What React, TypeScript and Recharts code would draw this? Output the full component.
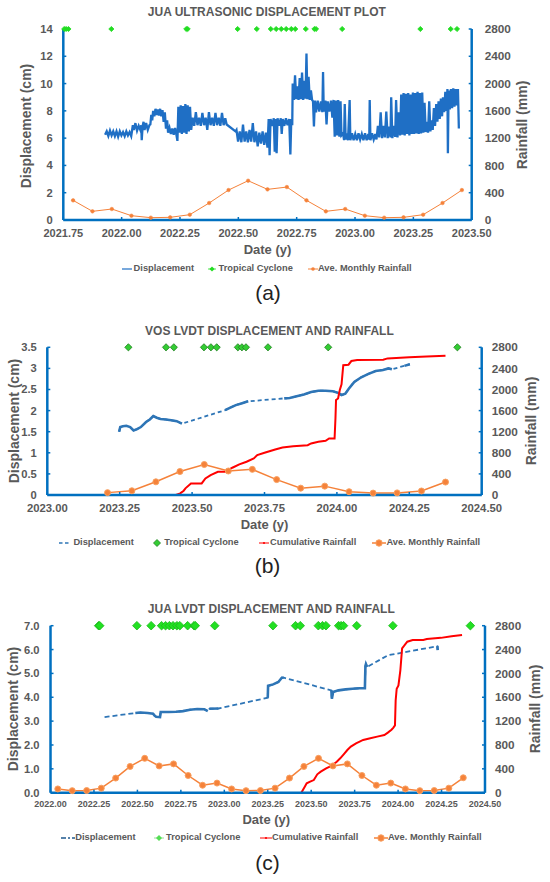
import React from 'react';
import { ComposedChart, Line, Scatter, XAxis, YAxis } from 'recharts';

const FONT = '"Liberation Sans", Arial, Helvetica, sans-serif';
const TXT = '#595959';
const AXIS = '#0070C0';
const BLUE = '#1F6FC5';
const BLUE2 = '#2E75B6';
const ORANGE = '#F5823A';
const ORANGE_EDGE = '#F8A060';
const RED = '#FF0000';

// ---------- tick labels ----------
const xTicksA = [2021.75, 2022.0, 2022.25, 2022.5, 2022.75, 2023.0, 2023.25, 2023.5];
const xTicksB = [2023.0, 2023.25, 2023.5, 2023.75, 2024.0, 2024.25, 2024.5];
const xTicksC = [2022.0, 2022.25, 2022.5, 2022.75, 2023.0, 2023.25, 2023.5, 2023.75, 2024.0, 2024.25, 2024.5];
const yTicksA = [0, 2, 4, 6, 8, 10, 12, 14];
const yTicksB = [0, 0.5, 1, 1.5, 2, 2.5, 3, 3.5];
const yTicksC = [0, 1, 2, 3, 4, 5, 6, 7];
const rainTicks = [0, 400, 800, 1200, 1600, 2000, 2400, 2800];

// ---------- tropical cyclone dates (decimal year) ----------
const cycloneDates = [
  2021.754, 2021.762, 2021.772, 2021.956, 2022.277, 2022.283, 2022.497, 2022.579, 2022.639,
  2022.662, 2022.684, 2022.705, 2022.727, 2022.744, 2022.789, 2022.826, 2022.833, 2022.945,
  2023.28, 2023.41, 2023.437, 2023.541, 2023.565, 2023.585, 2023.658, 2023.672, 2023.686,
  2023.762, 2023.97, 2024.416,
];

// ---------- average monthly rainfall (mm) ----------
const rainA = [
  [2021.792, 288], [2021.875, 127], [2021.958, 161], [2022.042, 63], [2022.125, 34], [2022.208, 39],
  [2022.292, 78], [2022.375, 249], [2022.458, 439], [2022.542, 576], [2022.625, 449], [2022.708, 483],
  [2022.792, 288], [2022.875, 127], [2022.958, 161], [2023.042, 63], [2023.125, 34], [2023.208, 39],
  [2023.292, 78], [2023.375, 249], [2023.458, 439],
];
const rainB = [
  [2023.208, 45], [2023.292, 80], [2023.375, 250], [2023.458, 445], [2023.542, 578], [2023.625, 455],
  [2023.708, 486], [2023.792, 292], [2023.875, 130], [2023.958, 168], [2024.042, 62], [2024.125, 36],
  [2024.208, 40], [2024.292, 76], [2024.375, 245],
];
const rainC = [
  [2022.042, 63], [2022.125, 34], [2022.208, 36], [2022.292, 76], [2022.375, 245], [2022.458, 440],
  [2022.542, 576], [2022.625, 449], [2022.708, 483], [2022.792, 288], [2022.875, 125], [2022.958, 161],
  [2023.042, 63], [2023.125, 34], [2023.208, 36], [2023.292, 76], [2023.375, 245], [2023.458, 440],
  [2023.542, 576], [2023.625, 449], [2023.708, 483], [2023.792, 288], [2023.875, 125], [2023.958, 161],
  [2024.042, 63], [2024.125, 34], [2024.208, 36], [2024.292, 76], [2024.375, 250],
];

// ---------- cumulative rainfall (mm) ----------
const cumB = [
  [2023.444, 0], [2023.459, 31], [2023.471, 82], [2023.477, 126], [2023.496, 220], [2023.533, 220],
  [2023.546, 315], [2023.564, 378], [2023.589, 441], [2023.614, 441], [2023.639, 517], [2023.663, 580],
  [2023.688, 630], [2023.713, 693], [2023.725, 756], [2023.75, 800], [2023.787, 863], [2023.812, 901],
  [2023.849, 926], [2023.899, 945], [2023.911, 977], [2023.936, 1008], [2023.961, 1027], [2023.973, 1071],
  [2023.992, 1071], [2023.995, 1450], [2023.997, 1800], [2024.004, 1830], [2024.01, 1990], [2024.016, 2100],
  [2024.022, 2460], [2024.04, 2470], [2024.05, 2540], [2024.07, 2560], [2024.16, 2565], [2024.175, 2590],
  [2024.25, 2610], [2024.31, 2625], [2024.375, 2640],
];
const cumC = [
  [2023.443, 0], [2023.463, 100], [2023.474, 157], [2023.494, 185], [2023.515, 212], [2023.535, 308],
  [2023.555, 352], [2023.586, 408], [2023.616, 448], [2023.647, 520], [2023.667, 576], [2023.687, 644],
  [2023.708, 716], [2023.728, 772], [2023.758, 828], [2023.799, 884], [2023.84, 912], [2023.88, 940],
  [2023.921, 968], [2023.941, 1008], [2023.962, 1056], [2023.972, 1088], [2023.982, 1128], [2023.986, 1548],
  [2023.992, 1744], [2024.002, 1800], [2024.013, 2052], [2024.023, 2420], [2024.033, 2456], [2024.053, 2532],
  [2024.084, 2560], [2024.145, 2560], [2024.165, 2576], [2024.246, 2596], [2024.308, 2624], [2024.368, 2644],
];

// ---------- JUA ultrasonic displacement (cm) ----------
const dispA = [
  [2021.929, 6.25], [2021.936, 6.5], [2021.943, 6.15], [2021.95, 6.55], [2021.957, 6.2], [2021.964, 6.5],
  [2021.971, 6.15], [2021.978, 6.5], [2021.985, 6.1], [2021.992, 6.5], [2021.999, 6.2], [2022.006, 6.45],
  [2022.013, 6.15], [2022.02, 6.5], [2022.027, 6.2], [2022.034, 6.45], [2022.041, 6.15], [2022.045, 6.6],
  [2022.048, 6.95], [2022.052, 6.6], [2022.059, 7.1], [2022.066, 6.55], [2022.073, 6.9], [2022.08, 6.6],
  [2022.084, 6.95], [2022.086, 5.85], [2022.09, 6.9], [2022.094, 7.2], [2022.098, 6.6], [2022.105, 7.1],
  [2022.112, 6.6], [2022.119, 6.95], [2022.123, 7.0], [2022.127, 7.7], [2022.131, 7.3], [2022.135, 8.0],
  [2022.14, 7.6], [2022.145, 8.15], [2022.15, 7.7], [2022.155, 8.1], [2022.16, 7.65], [2022.165, 8.15],
  [2022.17, 7.6], [2022.175, 8.05], [2022.18, 7.2], [2022.185, 7.9], [2022.19, 6.7], [2022.195, 7.3],
  [2022.199, 6.4], [2022.205, 6.75], [2022.211, 6.3], [2022.217, 6.7], [2022.223, 6.25], [2022.229, 6.75],
  [2022.235, 6.2], [2022.239, 5.8], [2022.243, 8.3], [2022.248, 6.4], [2022.253, 8.4], [2022.258, 6.3],
  [2022.263, 8.35], [2022.268, 6.4], [2022.273, 8.5], [2022.278, 6.3], [2022.283, 8.4], [2022.288, 6.5],
  [2022.293, 8.3], [2022.298, 6.6], [2022.304, 7.5], [2022.311, 6.9], [2022.318, 7.9], [2022.325, 6.95],
  [2022.332, 7.5], [2022.339, 6.9], [2022.346, 7.85], [2022.353, 6.95], [2022.36, 7.5], [2022.367, 6.6],
  [2022.374, 7.9], [2022.381, 6.95], [2022.388, 7.5], [2022.395, 6.9], [2022.402, 7.85], [2022.409, 6.95],
  [2022.416, 7.5], [2022.423, 6.9], [2022.43, 7.85], [2022.437, 6.95], [2022.444, 7.45], [2022.45, 7.0],
  [2022.488, 6.5], [2022.492, 6.6], [2022.499, 5.75], [2022.506, 6.5], [2022.513, 5.7], [2022.52, 7.0],
  [2022.527, 5.75], [2022.534, 6.5], [2022.541, 5.7], [2022.548, 6.6], [2022.555, 5.75], [2022.562, 7.1],
  [2022.569, 5.7], [2022.576, 6.5], [2022.583, 5.4], [2022.59, 6.4], [2022.597, 5.6], [2022.604, 6.5],
  [2022.611, 5.5], [2022.618, 6.4], [2022.625, 5.3], [2022.63, 7.4], [2022.634, 4.75], [2022.638, 7.4],
  [2022.645, 6.9], [2022.652, 7.45], [2022.656, 5.0], [2022.66, 7.4], [2022.664, 4.9], [2022.668, 7.45],
  [2022.675, 6.9], [2022.682, 7.45], [2022.686, 6.3], [2022.69, 7.4], [2022.697, 6.9], [2022.704, 7.45],
  [2022.711, 6.95], [2022.718, 7.4], [2022.723, 4.8], [2022.727, 7.4], [2022.731, 6.95], [2022.733, 10.0],
  [2022.738, 8.8], [2022.743, 10.6], [2022.748, 8.85], [2022.753, 9.8], [2022.758, 8.8], [2022.763, 10.4],
  [2022.768, 8.85], [2022.773, 10.8], [2022.778, 8.8], [2022.783, 10.2], [2022.788, 8.9], [2022.792, 12.2],
  [2022.796, 8.85], [2022.801, 10.5], [2022.806, 8.8], [2022.811, 9.5], [2022.816, 8.8], [2022.82, 8.7],
  [2022.824, 6.85], [2022.828, 8.75], [2022.833, 7.9], [2022.84, 8.75], [2022.847, 7.95], [2022.854, 8.7],
  [2022.86, 7.9], [2022.863, 10.85], [2022.866, 7.95], [2022.873, 8.75], [2022.878, 7.0], [2022.883, 8.7],
  [2022.89, 7.95], [2022.897, 8.75], [2022.903, 7.5], [2022.908, 8.8], [2022.913, 6.1], [2022.918, 8.75],
  [2022.923, 6.2], [2022.928, 8.8], [2022.933, 6.1], [2022.938, 8.7], [2022.942, 6.2], [2022.949, 6.35],
  [2022.953, 5.85], [2022.956, 8.5], [2022.96, 5.9], [2022.965, 6.35], [2022.97, 5.85], [2022.974, 7.5],
  [2022.977, 8.8], [2022.98, 5.85], [2022.987, 6.35], [2022.994, 5.85], [2023.001, 6.3], [2023.008, 5.85],
  [2023.015, 6.35], [2023.022, 5.9], [2023.029, 6.3], [2023.036, 5.85], [2023.043, 6.35], [2023.05, 5.85],
  [2023.057, 6.3], [2023.061, 5.9], [2023.063, 8.8], [2023.066, 5.85], [2023.073, 6.35], [2023.08, 5.9],
  [2023.087, 6.3], [2023.092, 5.9], [2023.098, 6.9], [2023.104, 6.05], [2023.11, 7.9], [2023.116, 6.0],
  [2023.122, 6.9], [2023.128, 6.05], [2023.134, 7.95], [2023.14, 6.0], [2023.146, 6.85], [2023.152, 6.05],
  [2023.155, 9.0], [2023.16, 6.0], [2023.166, 6.9], [2023.172, 6.1], [2023.176, 8.8], [2023.182, 6.05],
  [2023.188, 7.9], [2023.193, 6.2], [2023.198, 9.2], [2023.203, 6.25], [2023.208, 9.3], [2023.213, 6.2],
  [2023.218, 9.25], [2023.223, 6.3], [2023.228, 9.3], [2023.233, 6.2], [2023.238, 9.2], [2023.243, 6.3],
  [2023.248, 9.35], [2023.253, 6.3], [2023.258, 9.3], [2023.263, 6.35], [2023.268, 9.4], [2023.273, 6.3],
  [2023.278, 9.3], [2023.283, 6.35], [2023.288, 9.35], [2023.293, 6.4], [2023.298, 8.6], [2023.303, 6.45],
  [2023.308, 7.2], [2023.313, 6.4], [2023.318, 8.7], [2023.323, 6.5], [2023.328, 7.3], [2023.333, 6.6],
  [2023.338, 8.2], [2023.343, 6.9], [2023.348, 8.5], [2023.353, 7.2], [2023.358, 8.7], [2023.363, 7.4],
  [2023.368, 8.9], [2023.373, 7.6], [2023.377, 9.0], [2023.382, 7.9], [2023.387, 9.4], [2023.392, 8.0],
  [2023.396, 9.6], [2023.398, 4.9], [2023.401, 9.5], [2023.406, 8.1], [2023.411, 9.6], [2023.416, 8.2],
  [2023.421, 9.65], [2023.426, 8.3], [2023.431, 9.6], [2023.436, 8.4], [2023.441, 9.6], [2023.445, 6.7],
];

// ---------- VOS LVDT displacement (cm), logged segments ----------
const dispBSegments = [
  [[2023.248, 1.5], [2023.252, 1.61], [2023.261, 1.63], [2023.273, 1.64], [2023.286, 1.61], [2023.298, 1.53],
   [2023.31, 1.56], [2023.323, 1.61], [2023.341, 1.73], [2023.354, 1.79], [2023.366, 1.87], [2023.378, 1.83],
   [2023.391, 1.8], [2023.409, 1.79], [2023.428, 1.77], [2023.447, 1.75], [2023.465, 1.69]],
  [[2023.614, 2.01], [2023.632, 2.07], [2023.651, 2.13], [2023.67, 2.17], [2023.688, 2.21], [2023.694, 2.22]],
  [[2023.818, 2.29], [2023.837, 2.3], [2023.861, 2.34], [2023.886, 2.38], [2023.911, 2.44], [2023.936, 2.47],
   [2023.961, 2.47], [2023.986, 2.46], [2024.004, 2.42], [2024.016, 2.37], [2024.029, 2.4], [2024.041, 2.52],
   [2024.06, 2.68], [2024.084, 2.79], [2024.109, 2.87], [2024.134, 2.94], [2024.159, 2.96], [2024.178, 3.0],
   [2024.19, 2.98]],
  [[2024.233, 3.06], [2024.252, 3.1]],
];

// ---------- JUA LVDT displacement (cm), logged segments ----------
const dispCSegments = [
  [[2022.311, 3.17]],
  [[2022.488, 3.34], [2022.519, 3.36], [2022.559, 3.34], [2022.59, 3.31], [2022.6, 3.22], [2022.608, 3.18],
   [2022.63, 3.17], [2022.634, 3.38], [2022.681, 3.38], [2022.722, 3.39], [2022.762, 3.42], [2022.803, 3.48],
   [2022.844, 3.51], [2022.884, 3.5], [2022.905, 3.42]],
  [[2022.915, 3.52], [2022.966, 3.53]],
  [[2023.25, 3.98], [2023.252, 4.48], [2023.281, 4.54], [2023.311, 4.64], [2023.331, 4.82], [2023.342, 4.82]],
  [[2023.616, 4.29], [2023.619, 3.94], [2023.626, 4.22], [2023.657, 4.29], [2023.698, 4.33], [2023.738, 4.36],
   [2023.778, 4.38], [2023.809, 4.38], [2023.812, 5.3], [2023.815, 5.39], [2023.822, 5.27]],
  [[2023.941, 5.76]],
  [[2024.226, 6.14], [2024.228, 5.98]],
];

// ---------- helpers building library data ----------
const toPts = (arr: number[][]) => arr.map(([x, y]) => ({ x, y }));
const allPts = (segs: number[][][]) => toPts(segs.flat());
const solidPts = (segs: number[][][]) => {
  const out: any[] = [];
  segs.forEach((s) => {
    if (s.length < 2) return;
    s.forEach(([x, y]) => out.push({ x, y }));
    out.push({ x: s[s.length - 1][0], y: null });
  });
  return out;
};
const cyclones = (lo: number, hi: number, top: number) =>
  cycloneDates.filter((d) => d >= lo && d <= hi).map((x) => ({ x, y: top }));

const diamond = (h: number, fill: string, stroke: string) => (props: any) => {
  const { cx, cy } = props;
  if (cx == null || cy == null) return <g />;
  return (
    <path
      d={`M${cx},${cy - h}L${cx + h},${cy}L${cx},${cy + h}L${cx - h},${cy}Z`}
      fill={fill}
      stroke={stroke}
      strokeWidth={0.8}
    />
  );
};

function T(props: any) {
  const { x, y, size, children, rot, weight = 700, color = TXT } = props;
  return (
    <div
      style={{
        position: 'absolute',
        left: x,
        top: y,
        transform: `translate(-50%, -50%)${rot ? ' rotate(-90deg)' : ''}`,
        fontFamily: FONT,
        fontSize: size,
        fontWeight: weight,
        color,
        whiteSpace: 'nowrap',
        lineHeight: 1,
      }}
    >
      {children}
    </div>
  );
}

function LegendItem(props: any) {
  const { iconX, iconW, textX, y, icon, text } = props;
  return (
    <>
      <svg
        width={iconW}
        height={12}
        style={{ position: 'absolute', left: iconX, top: y - 6, overflow: 'visible' }}
      >
        {icon}
      </svg>
      <div
        style={{
          position: 'absolute',
          left: textX,
          top: y,
          transform: 'translateY(-50%)',
          fontFamily: FONT,
          fontSize: 9.3,
          fontWeight: 700,
          color: TXT,
          whiteSpace: 'nowrap',
          lineHeight: 1,
        }}
      >
        {text}
      </div>
    </>
  );
}

const tickStyleX = (fs: number) => ({ fill: TXT, fontSize: fs, fontWeight: 700, fontFamily: FONT });
const tickStyleY = (fs: number) => ({ fill: TXT, fontSize: fs, fontWeight: 700, fontFamily: FONT });
const axisLine = { stroke: AXIS, strokeWidth: 2.5 };
const tickLine = { stroke: AXIS, strokeWidth: 1.5 };

function axes(cfg: any) {
  return [
    <XAxis
      key="x"
      type="number"
      dataKey="x"
      domain={cfg.xDomain}
      ticks={cfg.xTicks}
      interval={0}
      height={30}
      tickFormatter={(v: number) => v.toFixed(2)}
      tick={tickStyleX(cfg.xFont)}
      axisLine={axisLine}
      tickLine={tickLine}
      tickSize={-3}
      tickMargin={cfg.xMargin}
    />,
    <YAxis
      key="yl"
      yAxisId="L"
      type="number"
      domain={[0, cfg.yMax]}
      ticks={cfg.yTicks}
      interval={0}
      width={cfg.leftW}
      tickFormatter={cfg.yFmt}
      tick={tickStyleY(11.2)}
      axisLine={axisLine}
      tickLine={tickLine}
      tickSize={-3}
      tickMargin={cfg.lMargin}
    />,
    <YAxis
      key="yr"
      yAxisId="R"
      orientation="right"
      type="number"
      domain={[0, 2800]}
      ticks={rainTicks}
      interval={0}
      width={cfg.rightW}
      tick={tickStyleY(11.8)}
      axisLine={axisLine}
      tickLine={tickLine}
      tickSize={-3}
      tickMargin={cfg.rMargin}
    />,
  ];
}

function ChartA() {
  return (
    <div style={{ position: 'absolute', left: 0, top: 0 }}>
      <ComposedChart width={550} height={250} margin={{ top: 29, right: 0, bottom: 0, left: 0 }}>
        {axes({
          xDomain: [2021.75, 2023.5], xTicks: xTicksA, xFont: 11, xMargin: 12.3,
          yMax: 14, yTicks: yTicksA, leftW: 63.3, rightW: 78.3, lMargin: 13.6, rMargin: 16,
          yFmt: (v: number) => String(v),
        })}
        <Line yAxisId="L" data={toPts(dispA)} dataKey="y" stroke={BLUE} strokeWidth={2.3}
          strokeLinejoin="miter" dot={false} activeDot={false} isAnimationActive={false} />
        <Scatter yAxisId="L" data={cyclones(2021.75, 2023.5, 14)} dataKey="y"
          shape={diamond(2.6, '#22DD22', '#22DD22')} isAnimationActive={false} />
        <Line yAxisId="R" data={toPts(rainA)} dataKey="y" stroke={ORANGE} strokeWidth={1}
          dot={{ r: 1.8, fill: ORANGE, stroke: ORANGE, strokeWidth: 0.5 }} activeDot={false}
          isAnimationActive={false} />
      </ComposedChart>
    </div>
  );
}

function ChartB() {
  const segs = dispBSegments;
  return (
    <div style={{ position: 'absolute', left: 0, top: 300 }}>
      <ComposedChart width={550} height={225} margin={{ top: 47.3, right: 0, bottom: 0, left: 0 }}>
        {axes({
          xDomain: [2023.0, 2024.5], xTicks: xTicksB, xFont: 11.3, xMargin: 12,
          yMax: 3.5, yTicks: yTicksB, leftW: 47.3, rightW: 68.3, lMargin: 13.5, rMargin: 13,
          yFmt: (v: number) => String(v),
        })}
        <Line yAxisId="L" data={allPts(segs)} dataKey="y" stroke={BLUE2} strokeWidth={1.8}
          strokeDasharray="4 3" dot={false} activeDot={false} isAnimationActive={false} />
        <Line yAxisId="L" data={solidPts(segs)} dataKey="y" stroke={BLUE2} strokeWidth={2.6}
          connectNulls={false} dot={false} activeDot={false} isAnimationActive={false} />
        <Scatter yAxisId="L" data={cyclones(2023.0, 2024.5, 3.5)} dataKey="y"
          shape={diamond(3.6, '#33CC33', '#1F7F1F')} isAnimationActive={false} />
        <Line yAxisId="R" data={toPts(cumB)} dataKey="y" stroke={RED} strokeWidth={2}
          dot={false} activeDot={false} isAnimationActive={false} />
        <Line yAxisId="R" data={toPts(rainB)} dataKey="y" stroke={ORANGE} strokeWidth={1.5}
          dot={{ r: 3, fill: ORANGE, stroke: ORANGE_EDGE, strokeWidth: 1 }} activeDot={false}
          isAnimationActive={false} />
      </ComposedChart>
    </div>
  );
}

function ChartC() {
  const segs = dispCSegments;
  return (
    <div style={{ position: 'absolute', left: 0, top: 600 }}>
      <ComposedChart width={550} height={222.7} margin={{ top: 25.7, right: 0, bottom: 0, left: 0 }}>
        {axes({
          xDomain: [2022.0, 2024.5], xTicks: xTicksC, xFont: 9, xMargin: 11.3,
          yMax: 7, yTicks: yTicksC, leftW: 50.5, rightW: 65, lMargin: 14, rMargin: 13,
          yFmt: (v: number) => v.toFixed(1),
        })}
        <Line yAxisId="L" data={allPts(segs)} dataKey="y" stroke={BLUE2} strokeWidth={1.8}
          strokeDasharray="5 3" dot={false} activeDot={false} isAnimationActive={false} />
        <Line yAxisId="L" data={solidPts(segs)} dataKey="y" stroke={BLUE2} strokeWidth={2.6}
          connectNulls={false} dot={false} activeDot={false} isAnimationActive={false} />
        <Scatter yAxisId="L" data={cyclones(2022.0, 2024.5, 7)} dataKey="y"
          shape={diamond(4.3, '#22E022', '#19B819')} isAnimationActive={false} />
        <Line yAxisId="R" data={toPts(cumC)} dataKey="y" stroke={RED} strokeWidth={2}
          dot={false} activeDot={false} isAnimationActive={false} />
        <Line yAxisId="R" data={toPts(rainC)} dataKey="y" stroke={ORANGE} strokeWidth={1.5}
          dot={{ r: 3, fill: ORANGE, stroke: ORANGE_EDGE, strokeWidth: 1 }} activeDot={false}
          isAnimationActive={false} />
      </ComposedChart>
    </div>
  );
}

const icoLine = (c: string, w: number, dash?: string) => (
  <line x1={0} y1={6} x2={10} y2={6} stroke={c} strokeWidth={w} strokeDasharray={dash} />
);

export default function App() {
  return (
    <div style={{ position: 'absolute', left: 0, top: 0, width: 550, height: 882, background: '#fff', overflow: 'hidden' }}>
      {/* (a) */}
      <T x={266.8} y={12.3} size={12}>JUA ULTRASONIC DISPLACEMENT PLOT</T>
      <ChartA />
      <T x={25.7} y={126} size={14} rot>Displacement (cm)</T>
      <T x={522} y={125} size={14} rot>Rainfall (mm)</T>
      <T x={267.5} y={249.3} size={13}>Date (y)</T>
      <LegendItem iconX={122} iconW={10} textX={133.6} y={269}
        icon={icoLine(BLUE, 1.2)} text="Displacement" />
      <LegendItem iconX={207} iconW={10} textX={218.5} y={269}
        icon={<><line x1={1} y1={6} x2={9} y2={6} stroke="#22DD22" strokeWidth={0.8} />
          <path d="M5,3.4L7.6,6L5,8.6L2.4,6Z" fill="#22DD22" /></>} text="Tropical Cyclone" />
      <LegendItem iconX={307.5} iconW={10} textX={318} y={269}
        icon={<>{icoLine(ORANGE, 1)}<circle cx={5} cy={6} r={1.8} fill={ORANGE} /></>}
        text="Ave. Monthly Rainfall" />
      <T x={268} y={291.7} size={21} weight={400} color="#222">(a)</T>

      {/* (b) */}
      <T x={269.4} y={330.7} size={12}>VOS LVDT DISPLACEMENT AND RAINFALL</T>
      <ChartB />
      <T x={13.5} y={421} size={14} rot>Displacement (cm)</T>
      <T x={531} y={421} size={14} rot>Rainfall (mm)</T>
      <T x={264.5} y={524.3} size={13}>Date (y)</T>
      <LegendItem iconX={59.4} iconW={10} textX={73.4} y={543.3}
        icon={icoLine(BLUE2, 1.6, '3.5 2.5')} text="Displacement" />
      <LegendItem iconX={152.3} iconW={10} textX={164.3} y={543.3}
        icon={<path d="M5,2.5L8.5,6L5,9.5L1.5,6Z" fill="#33CC33" stroke="#1F7F1F" strokeWidth={0.8} />}
        text="Tropical Cyclone" />
      <LegendItem iconX={258.7} iconW={10} textX={270} y={543.3}
        icon={<>{icoLine(RED, 1)}<circle cx={5} cy={6} r={1.1} fill={RED} /></>} text="Cumulative Rainfall" />
      <LegendItem iconX={372.4} iconW={14} textX={386.4} y={543.3}
        icon={<><line x1={0} y1={6} x2={14} y2={6} stroke={ORANGE} strokeWidth={1.5} />
          <circle cx={7} cy={6} r={3.2} fill={ORANGE} stroke={ORANGE_EDGE} strokeWidth={1} /></>}
        text="Ave. Monthly Rainfall" />
      <T x={267.5} y={565} size={21} weight={400} color="#222">(b)</T>

      {/* (c) */}
      <T x={271.3} y={609.3} size={12}>JUA LVDT DISPLACEMENT AND RAINFALL</T>
      <ChartC />
      <T x={13} y={709} size={14} rot>Displacement (cm)</T>
      <T x={535} y={709} size={14} rot>Rainfall (mm)</T>
      <T x={266.3} y={819} size={13}>Date (y)</T>
      <LegendItem iconX={61} iconW={14} textX={75.2} y={838.3}
        icon={<line x1={0} y1={6} x2={14} y2={6} stroke="#1F5A8F" strokeWidth={1.6} strokeDasharray="5 2 2 2" />}
        text="Displacement" />
      <LegendItem iconX={154} iconW={10} textX={166} y={838.3}
        icon={<><line x1={0} y1={6} x2={10} y2={6} stroke="#7FD77F" strokeWidth={0.8} />
          <path d="M5,3L8,6L5,9L2,6Z" fill="#55DD55" /></>} text="Tropical Cyclone" />
      <LegendItem iconX={259.5} iconW={12} textX={272} y={838.3}
        icon={<><line x1={0} y1={6} x2={12} y2={6} stroke={RED} strokeWidth={1} /><circle cx={6} cy={6} r={1.1} fill={RED} /></>}
        text="Cumulative Rainfall" />
      <LegendItem iconX={374} iconW={14} textX={388} y={838.3}
        icon={<><line x1={0} y1={6} x2={14} y2={6} stroke={ORANGE} strokeWidth={1.5} />
          <circle cx={7} cy={6} r={3.2} fill={ORANGE} stroke={ORANGE_EDGE} strokeWidth={1} /></>}
        text="Ave. Monthly Rainfall" />
      <T x={267.5} y={861.7} size={21} weight={400} color="#222">(c)</T>
    </div>
  );
}
